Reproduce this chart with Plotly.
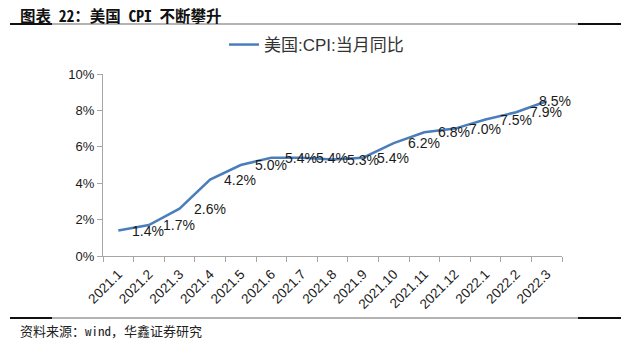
import plotly.graph_objects as go

# Monthly US CPI, year-on-year (%)
months = ["2021.1", "2021.2", "2021.3", "2021.4", "2021.5", "2021.6", "2021.7",
          "2021.8", "2021.9", "2021.10", "2021.11", "2021.12", "2022.1", "2022.2", "2022.3"]
cpi_yoy = [1.4, 1.7, 2.6, 4.2, 5.0, 5.4, 5.4, 5.3, 5.4, 6.2, 6.8, 7.0, 7.5, 7.9, 8.5]
y_ticks = [0, 2, 4, 6, 8, 10]

series_name = "美国:CPI:当月同比"
title_text = "图表 22：美国 CPI 不断攀升"
source_text = "资料来源：wind，华鑫证券研究"

W, H = 640, 339
PL, PR, PT, PB = 103, 562, 74, 256   # plot area edges in pixels

def fx(px):
    return (px - PL) / (PR - PL)

def fy(py):
    return (PB - py) / (PB - PT)

LATIN = "Liberation Sans, Arial, Noto Sans CJK SC, sans-serif"
MONO_CJK = "Noto Sans Mono CJK SC, Noto Sans CJK SC, monospace"

fig = go.Figure()
fig.add_trace(go.Scatter(
    x=months, y=cpi_yoy, mode="lines", name=series_name,
    line=dict(color="#4a7ebb", width=2.5),
    showlegend=True,
))

annotations = []
# value labels to the right of each point; the last one is pulled back inside
for i, v in enumerate(cpi_yoy):
    last = i == len(cpi_yoy) - 1
    annotations.append(dict(
        x=i, y=v, xref="x", yref="y", text=f"{v:.1f}%", showarrow=False,
        xanchor="right" if last else "left", yanchor="middle",
        xshift=26 if last else 12,
        font=dict(family=LATIN, size=14, color="#1a1a1a"),
    ))

annotations.append(dict(
    x=fx(18), y=fy(15), xref="paper", yref="paper", text=title_text,
    showarrow=False, xanchor="left", yanchor="middle",
    font=dict(family=MONO_CJK, size=15.5, color="#111111", weight=600),
))
annotations.append(dict(
    x=fx(18), y=fy(330), xref="paper", yref="paper", text=source_text,
    showarrow=False, xanchor="left", yanchor="middle",
    font=dict(family=MONO_CJK, size=13, color="#222222"),
))

shapes = []
for yy in (24, 318):
    shapes.append(dict(type="line", xref="paper", yref="paper",
                       x0=fx(52), x1=fx(578), y0=fy(yy), y1=fy(yy),
                       line=dict(color="#9a9a9a", width=1.5)))
    for a, b in ((10, 52), (578, 621)):
        shapes.append(dict(type="line", xref="paper", yref="paper",
                           x0=fx(a), x1=fx(b), y0=fy(yy), y1=fy(yy),
                           line=dict(color="#111111", width=2)))

fig.update_layout(
    width=W, height=H,
    margin=dict(l=PL, r=W - PR, t=PT, b=H - PB, pad=0),
    paper_bgcolor="white", plot_bgcolor="white",
    showlegend=True,
    legend=dict(
        orientation="h", x=fx(224), y=fy(45), xanchor="left", yanchor="middle",
        font=dict(family=LATIN, size=17, color="#333333"),
        itemwidth=30, bgcolor="rgba(0,0,0,0)",
    ),
    xaxis=dict(
        type="category", tickson="boundaries", ticks="outside", ticklen=5,
        tickcolor="#a6a6a6", showline=True, linecolor="#a6a6a6", linewidth=1,
        showgrid=False, tickangle=-45, ticklabelstandoff=4,
        tickfont=dict(family=LATIN, size=13.5, color="#1a1a1a"),
        range=[-0.5, len(months) - 0.5],
    ),
    yaxis=dict(
        range=[0, 10], tickvals=y_ticks, ticktext=[f"{t}%" for t in y_ticks],
        ticks="outside", ticklen=5, tickcolor="#a6a6a6",
        showline=True, linecolor="#a6a6a6", linewidth=1,
        showgrid=False, zeroline=False,
        tickfont=dict(family=LATIN, size=13, color="#1a1a1a"),
    ),
    annotations=annotations,
    shapes=shapes,
)

fig.write_html("out.html")
